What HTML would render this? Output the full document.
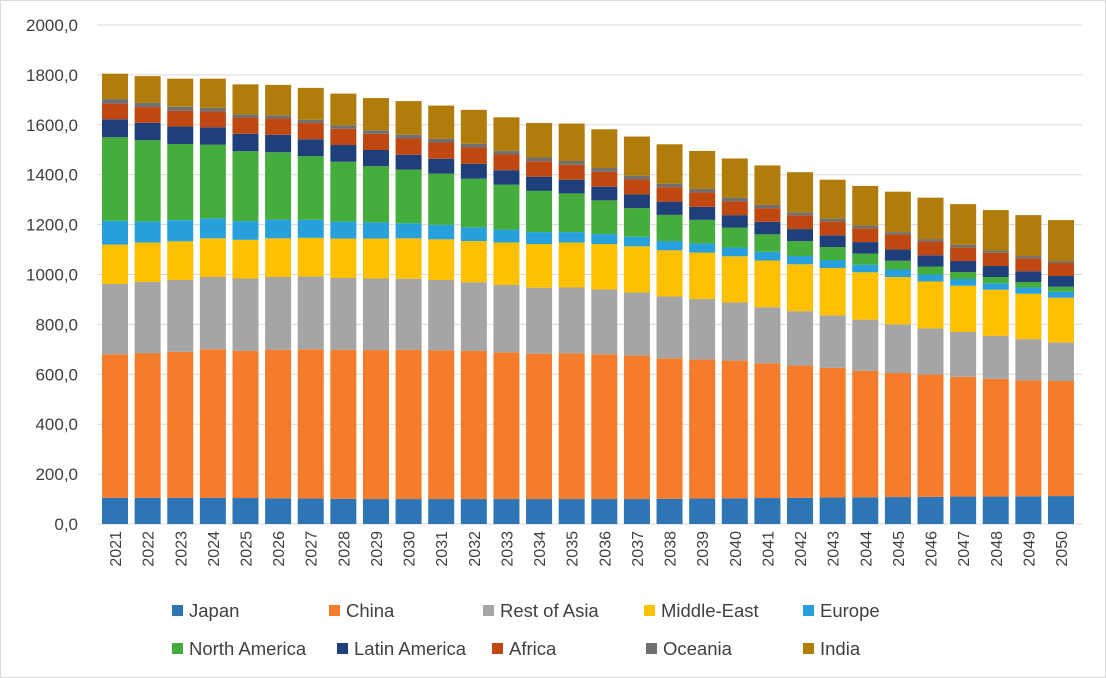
<!DOCTYPE html>
<html><head><meta charset="utf-8"><style>
body{margin:0;background:#fff;}
svg{display:block;font-family:"Liberation Sans",sans-serif;}
</style></head><body>
<svg id="c" width="1106" height="678">
<rect x="0.5" y="0.5" width="1105" height="677" fill="#fff" stroke="#d9d9d9"/>
<g id="grid"></g><g id="bars"></g><g id="axes"></g><g id="legend"></g>
</svg>
<script>
const years=[2021,2022,2023,2024,2025,2026,2027,2028,2029,2030,2031,2032,2033,2034,2035,2036,2037,2038,2039,2040,2041,2042,2043,2044,2045,2046,2047,2048,2049,2050];
const seriesNames=["Japan","China","Rest of Asia","Middle-East","Europe","North America","Latin America","Africa","Oceania","India"];
const japan=[105,105,105,105,104,103,102,101,100,100,100,100,100,100,100,100,100,101,102,103,104,105,106,107,108,109,110,110,111,112];
const china=[575,580,585,595,590,595,598,597,597,598,596,594,588,582,584,580,575,563,557,552,540,530,520,507,497,490,480,472,465,461];
const restOfAsia=[282,285,288,290,290,292,292,288,287,285,282,275,270,265,264,260,253,248,243,233,225,218,210,205,195,185,180,172,165,155];
const middleEast=[158,158,155,155,155,155,155,158,160,162,163,165,170,175,180,182,185,185,186,185,187,188,190,190,190,188,185,185,182,179];
const europe=[95,85,85,80,75,75,72,68,65,60,58,55,52,48,42,40,38,37,36,35,35,33,32,30,30,28,27,26,25,24];
const northAmerica=[335,325,305,295,280,270,255,240,225,215,205,195,180,165,155,135,115,105,95,80,70,60,52,45,35,32,28,25,22,20];
const latinAmerica=[72,70,70,70,70,70,68,67,65,60,60,60,58,57,55,55,55,53,52,50,50,48,47,46,45,45,44,44,43,43];
const africa=[63,63,63,63,65,65,65,65,65,65,65,65,63,62,60,60,60,58,58,55,55,55,55,55,60,55,55,53,52,52];
const oceania=[18,17,16,15,13,13,13,14,14,15,15,15,15,15,15,15,15,14,14,15,13,12,12,11,10,10,10,9,9,8];
const india=[102,107,113,117,120,122,128,127,129,135,133,136,134,138,150,155,157,158,152,157,158,161,156,159,162,166,163,162,164,164];
const yTicks=[0,200,400,600,800,1000,1200,1400,1600,1800,2000];
const series=[japan,china,restOfAsia,middleEast,europe,northAmerica,latinAmerica,africa,oceania,india];
const colors=["#2e75b6","#f47c2b","#a5a5a5","#ffc000","#27a0dc","#44ad3c","#1f3f7a","#c0470f","#707070","#b07c0a"];
const NS="http://www.w3.org/2000/svg";
const x0=98.7,gx1=1082,yB=524,yT=25,maxV=2000;
const step=32.62, bw=26;
const yS=v=>yB-(v/maxV)*(yB-yT);
const xC=i=>x0+step*(i+0.5);
function mk(t,a,p){const e=document.createElementNS(NS,t);for(const k in a)e.setAttribute(k,a[k]);p.appendChild(e);return e;}
const grid=document.getElementById('grid'),bars=document.getElementById('bars'),axes=document.getElementById('axes'),leg=document.getElementById('legend');
yTicks.forEach(v=>{
  const l=mk('line',{x1:97,x2:gx1,y1:yS(v),y2:yS(v),stroke:'#d9d9d9','stroke-width':1},grid);
  
  
  const t=mk('text',{x:78,y:yS(v)+6,'text-anchor':'end','font-size':17,fill:'#404040'},axes);
  t.textContent=v.toFixed(1).replace('.',',');
  
  
});
years.forEach((yr,i)=>{
  let cum=0;
  series.forEach((s,k)=>{
    const y0=yS(cum),y1=yS(cum+s[i]);cum+=s[i];
    const r=mk('rect',{x:xC(i)-bw/2,y:y1,width:bw,height:y0-y1,fill:colors[k]},bars);
    
    
  });
  const t=mk('text',{transform:`translate(${xC(i)+6},${531}) rotate(-90)`,'text-anchor':'end','font-size':16,fill:'#404040'},axes);
  t.textContent=yr;
  
  
});
const lx1=[172,329,483,644,803], lx2=[172,337,492,646,803];
seriesNames.forEach((n,k)=>{
  const row=Math.floor(k/5),col=k%5;
  const gx=row?lx2[col]:lx1[col],gy=row?649:611;
  const g=mk('g',{},leg);
  
  
  mk('rect',{x:gx,y:gy-6,width:11,height:11,fill:colors[k]},g);
  const t=mk('text',{x:gx+17,y:gy+6,'font-size':18.5,fill:'#404040'},g);
  t.textContent=n;
});
</script>
</body></html>
